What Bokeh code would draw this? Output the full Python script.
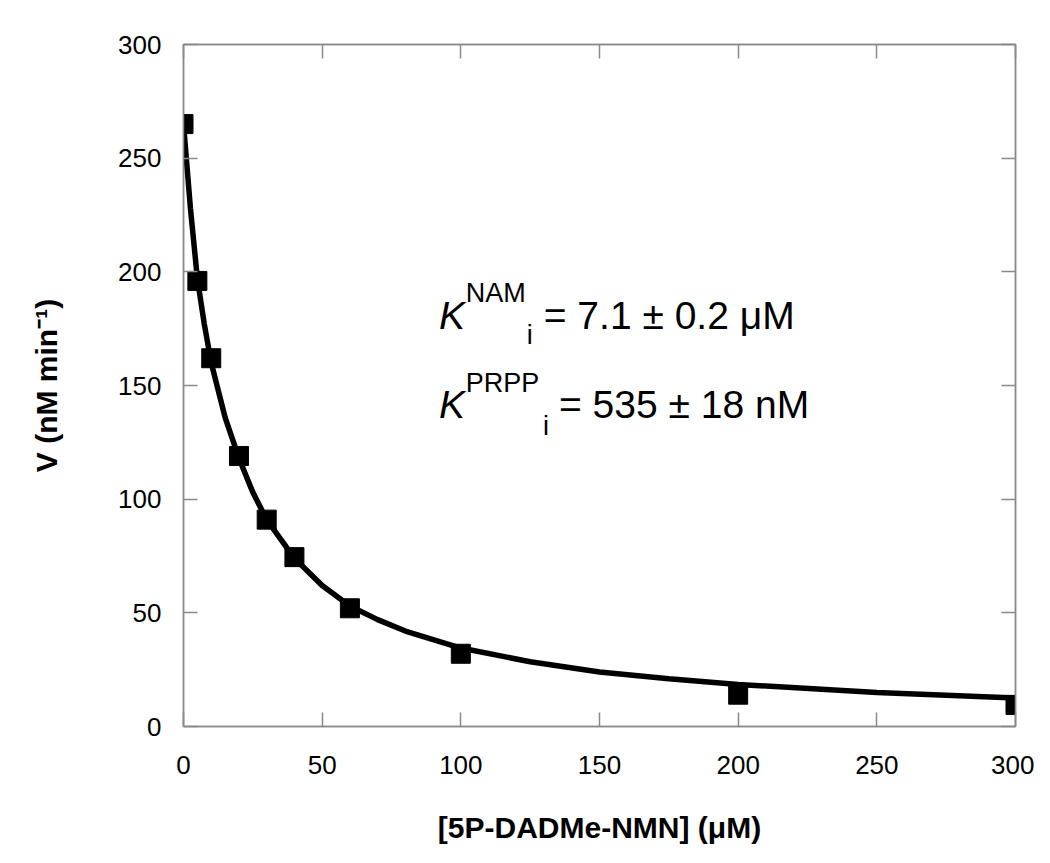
from bokeh.plotting import figure
from bokeh.models import LinearAxis, Label, FixedTicker, Range1d
from bokeh.embed import file_html
from bokeh.resources import INLINE

# measured data
conc = [0, 5, 10, 20, 30, 40, 60, 100, 200, 300]
rate = [265, 196, 162, 119, 91, 74.5, 52, 32, 14, 9.5]

# fitted curve
fit_conc = [0, 2.5, 5, 7.5, 10, 15, 20, 25, 30, 40, 50, 60, 70, 80, 100,
            125, 150, 175, 200, 250, 300]
fit_rate = [265, 228, 197, 177, 160, 136, 118, 103, 91, 74, 62, 53, 47, 42,
            34.5, 28.5, 24, 21, 18.5, 15, 12.5]

x_ticks = [0, 50, 100, 150, 200, 250, 300]
y_ticks = [0, 50, 100, 150, 200, 250, 300]

FONT = "Liberation Sans"
FRAME = "#8a8a8a"

p = figure(width=1034, height=847, x_range=Range1d(0, 300), y_range=Range1d(0, 300),
           output_backend="svg", toolbar_location=None,
           min_border_left=183, min_border_right=19, min_border_top=44, min_border_bottom=121)
p.grid.visible = False
p.outline_line_color = FRAME
p.outline_line_width = 1.5
p.background_fill_color = "white"
p.border_fill_color = "white"

p.line(fit_conc, fit_rate, line_width=5.5, color="black")
p.scatter(conc, rate, marker="square", size=19, color="black")

for ax, ticks in ((p.xaxis[0], x_ticks), (p.yaxis[0], y_ticks)):
    ax.ticker = FixedTicker(ticks=ticks)
    ax.minor_tick_line_color = None
    ax.major_tick_in = 14
    ax.major_tick_out = 0
    ax.major_tick_line_color = FRAME
    ax.major_tick_line_width = 1.5
    ax.axis_line_color = FRAME
    ax.axis_line_width = 1.5
    ax.major_label_text_font = FONT
    ax.major_label_text_font_size = "26px"
    ax.major_label_text_color = "black"
    ax.axis_label_text_font = FONT
    ax.axis_label_text_font_size = "30px"
    ax.axis_label_text_font_style = "bold"
    ax.axis_label_text_color = "black"

p.xaxis[0].axis_label = "[5P-DADMe-NMN] (\u03bcM)"
p.xaxis[0].major_label_standoff = 29
p.xaxis[0].axis_label_standoff = 34
p.yaxis[0].axis_label = "V (nM min\u207b\u00b9)"
p.yaxis[0].major_label_standoff = 22
p.yaxis[0].axis_label_standoff = 52

# mirror ticks on top and right
top = LinearAxis(ticker=FixedTicker(ticks=x_ticks))
right = LinearAxis(ticker=FixedTicker(ticks=y_ticks))
for ax in (top, right):
    ax.minor_tick_line_color = None
    ax.major_tick_in = 14
    ax.major_tick_out = 0
    ax.major_tick_line_color = FRAME
    ax.major_tick_line_width = 1.5
    ax.axis_line_color = FRAME
    ax.axis_line_width = 1.5
    ax.major_label_text_font_size = "0px"
    ax.major_label_text_color = None
    ax.major_label_standoff = 0
p.add_layout(top, "above")
p.add_layout(right, "right")

def lab(x, y, text, size, style="normal"):
    p.add_layout(Label(x=x, y=y, text=text, text_font=FONT, text_font_size=size,
                       text_font_style=style, text_color="black",
                       text_baseline="alphabetic", text_align="left"))

# K_i^NAM
lab(92.1, 180.8, "K", "39px", "italic")
lab(101.8, 190.5, "NAM", "27px")
lab(123.8, 172.0, "i", "27px")
lab(129.9, 180.8, "= 7.1 \u00b1 0.2 \u03bcM", "39px")
# K_i^PRPP
lab(92.1, 141.7, "K", "39px", "italic")
lab(101.8, 150.9, "PRPP", "27px")
lab(129.6, 132.4, "i", "27px")
lab(135.4, 141.7, "= 535 \u00b1 18 nM", "39px")

open("out.html", "w").write(file_html(p, INLINE))
